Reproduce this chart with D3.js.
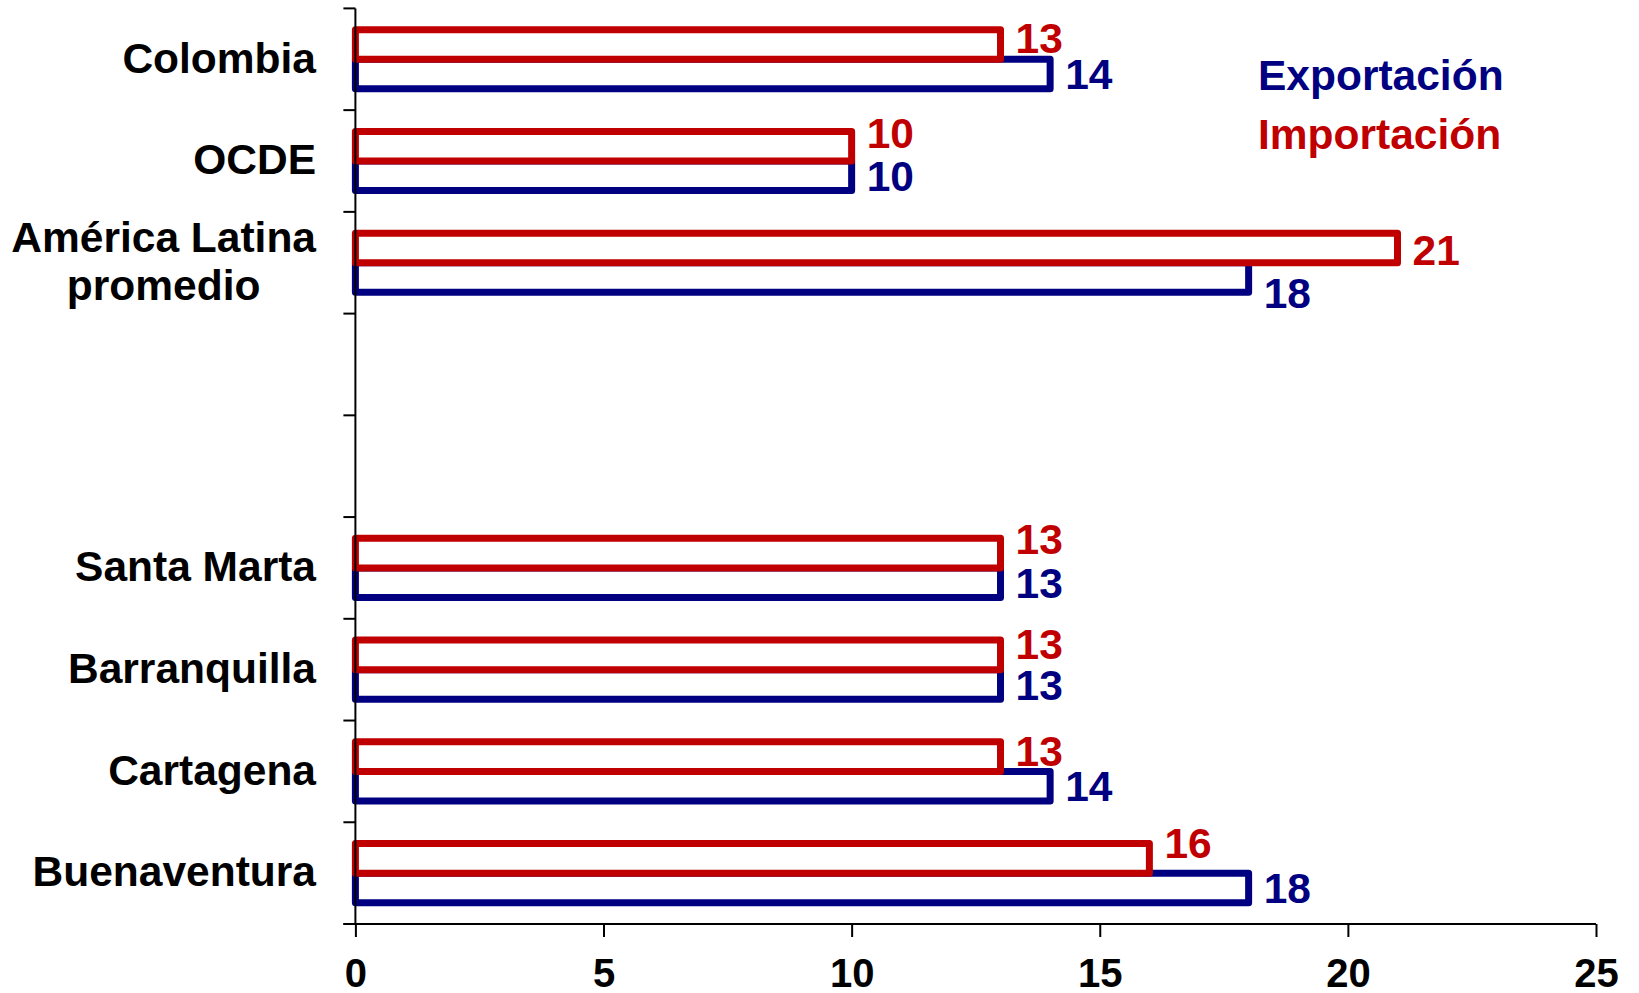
<!DOCTYPE html>
<html>
<head>
<meta charset="utf-8">
<script src="https://cdn.jsdelivr.net/npm/d3@7"></script>
<style>
  html, body { margin: 0; padding: 0; background: #fff; }
  svg { display: block; font-family: "Liberation Sans", Arial, sans-serif; font-weight: bold; }
</style>
</head>
<body>
<svg id="chart" width="1639" height="993"></svg>
<script>
// ---- data ----
const categories = ["Colombia", "OCDE", "América Latina|promedio", "_gap1", "_gap2",
                    "Santa Marta", "Barranquilla", "Cartagena", "Buenaventura"];
const exportacion = [14, 10, 18, null, null, 13, 13, 14, 18];
const importacion = [13, 10, 21, null, null, 13, 13, 13, 16];
const seriesNames = ["Importación", "Exportación"];
const xTicks = [0, 5, 10, 15, 20, 25];

// ---- layout ----
const plotLeft = 355.4, plotRight = 1596, plotTop = 8.4, plotBottom = 924;
const colors = { "Exportación": "#000080", "Importación": "#C00000" };
const fs = 42.5;
// small manual nudges of the value labels (as in the original)
const redNudge  = [-7, -14, 2, 0, 0, -14, -11, -6, -16];
const blueNudge = [0, 0, 15, 0, 0, 0, 0, 0, 0];

const svg = d3.select("#chart");

const x = d3.scaleLinear().domain([0, 25]).range([plotLeft, plotRight]);
const y0 = d3.scaleBand().domain(categories).range([plotTop, plotBottom]).padding(0);
const y1 = d3.scaleBand().domain(seriesNames).range([0, y0.bandwidth()])
  .paddingInner(0).paddingOuter(0.72);

const rows = categories.map((c, i) => ({ c, i, exp: exportacion[i], imp: importacion[i] }))
  .filter(d => d.exp != null);

const g = svg.append("g");
const sw = 7;

// export bars (drawn first), then import bars on top
g.selectAll("rect.exp").data(rows).join("rect")
  .attr("class", "exp")
  .attr("x", x(0))
  .attr("y", d => y0(d.c) + y1("Exportación"))
  .attr("width", d => x(d.exp) - x(0))
  .attr("height", y1.bandwidth())
  .attr("fill", "#fff")
  .attr("stroke", colors["Exportación"])
  .attr("stroke-width", sw)
  .attr("stroke-linejoin", "round");

g.selectAll("rect.imp").data(rows).join("rect")
  .attr("class", "imp")
  .attr("x", x(0))
  .attr("y", d => y0(d.c) + y1("Importación"))
  .attr("width", d => x(d.imp) - x(0))
  .attr("height", y1.bandwidth())
  .attr("fill", "#fff")
  .attr("stroke", colors["Importación"])
  .attr("stroke-width", sw)
  .attr("stroke-linejoin", "round");

// value labels
g.selectAll("text.vexp").data(rows).join("text")
  .attr("class", "vexp")
  .attr("x", d => x(d.exp) + 15)
  .attr("y", d => y0(d.c) + y1("Exportación") + y1.bandwidth() / 2 + blueNudge[d.i])
  .attr("dy", "0.36em")
  .attr("font-size", fs)
  .attr("fill", colors["Exportación"])
  .text(d => d.exp);

g.selectAll("text.vimp").data(rows).join("text")
  .attr("class", "vimp")
  .attr("x", d => x(d.imp) + 15)
  .attr("y", d => y0(d.c) + y1("Importación") + y1.bandwidth() / 2 + redNudge[d.i])
  .attr("dy", "0.36em")
  .attr("font-size", fs)
  .attr("fill", colors["Importación"])
  .text(d => d.imp);

// y axis line and ticks at band boundaries
const axisG = svg.append("g").attr("stroke", "#000").attr("stroke-width", 2);
axisG.append("line").attr("x1", plotLeft).attr("x2", plotLeft).attr("y1", plotTop).attr("y2", plotBottom);
const bounds = d3.range(categories.length + 1).map(i => plotTop + i * y0.step());
axisG.selectAll("line.yt").data(bounds).join("line")
  .attr("class", "yt")
  .attr("x1", plotLeft - 12).attr("x2", plotLeft).attr("y1", d => d).attr("y2", d => d);

// x axis
const xAxis = d3.axisBottom(x).tickValues(xTicks).tickSize(13).tickPadding(22).tickSizeOuter(0)
  .tickFormat(d3.format("d"));
const xg = svg.append("g").attr("transform", `translate(0,${plotBottom})`).call(xAxis);
xg.select(".domain").attr("stroke-width", 2).attr("d", `M${plotLeft - 12},0H${plotRight}`);
xg.selectAll(".tick line").attr("stroke-width", 2);
xg.selectAll(".tick text").attr("font-size", 40).attr("font-weight", "bold")
  .attr("font-family", "'Liberation Sans', Arial, sans-serif").attr("fill", "#000");

// category labels (multi-line blocks centered, right aligned)
const labelRight = 316;
rows.forEach(d => {
  const lines = d.c.split("|");
  const cy = y0(d.c) + y0.bandwidth() / 2 - 2;
  const lh = 48;
  const t = svg.append("text").attr("font-size", fs).attr("fill", "#000");
  lines.forEach((ln, k) => {
    t.append("tspan").attr("y", cy + (k - (lines.length - 1) / 2) * lh).attr("dy", "0.36em").text(ln);
  });
  let maxW = 0;
  t.selectAll("tspan").each(function() { maxW = Math.max(maxW, this.getComputedTextLength()); });
  t.attr("text-anchor", "middle");
  t.selectAll("tspan").attr("x", labelRight - maxW / 2);
});

// legend
const legend = [["Exportación", 75], ["Importación", 134]];
svg.selectAll("text.leg").data(legend).join("text")
  .attr("class", "leg")
  .attr("x", 1258)
  .attr("y", d => d[1])
  .attr("dy", "0.36em")
  .attr("font-size", fs)
  .attr("fill", d => colors[d[0]])
  .text(d => d[0]);
</script>
</body>
</html>
